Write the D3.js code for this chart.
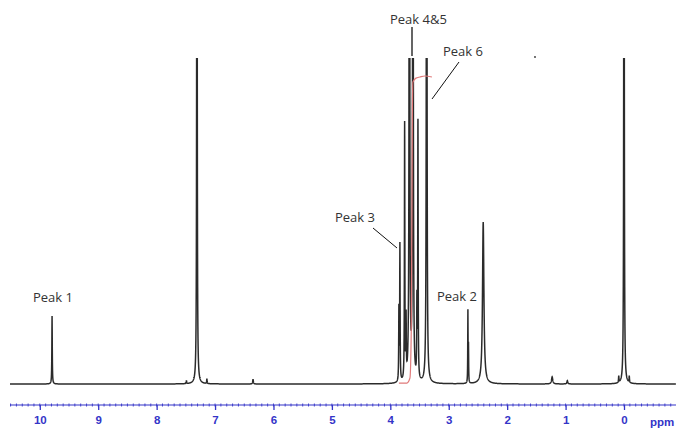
<!DOCTYPE html>
<html>
<head>
<meta charset="utf-8">
<script src="https://cdn.jsdelivr.net/npm/d3@7"></script>
<style>
  html, body { margin: 0; padding: 0; background: #fff; }
  svg { display: block; }
</style>
</head>
<body id="body">
<svg></svg>
<script>
// peak list (ppm, height in % of plot, half width in ppm)
var peakPpm    = [9.79, 7.49, 7.31, 7.14, 6.35, 3.853, 3.836, 3.755, 3.73, 3.673, 3.613, 3.545, 3.527, 3.378, 2.672, 2.662, 2.41, 1.23, 0.97, 0.09, 0.0, -0.09];
var peakHeight = [21, 1, 300, 1.5, 1.5, 22, 42, 79, 18, 300, 300, 23, 79, 300, 22, 11, 50, 2.2, 1, 2, 300, 2];
var peakWidth  = [0.004, 0.004, 0.004, 0.004, 0.006, 0.004, 0.004, 0.004, 0.004, 0.005, 0.005, 0.004, 0.004, 0.005, 0.003, 0.003, 0.014, 0.012, 0.008, 0.004, 0.004, 0.004];

// integral trace over peaks 4&5
var integralPpm = [3.853, 3.716, 3.664, 3.642, 3.630, 3.622, 3.613, 3.562, 3.493, 3.408, 3.288];
var integralVal = [0.3, 0.3, 1.85, 16, 52.2, 85.5, 93.2, 94.4, 94.75, 95.06, 94.75];

var majorTicks = [10, 9, 8, 7, 6, 5, 4, 3, 2, 1, 0];

var labels = [
  {text: "Peak 1", x: 33, y: 302},
  {text: "Peak 2", x: 437, y: 301},
  {text: "Peak 3", x: 335, y: 222},
  {text: "Peak 4&5", x: 390, y: 24},
  {text: "Peak 6", x: 443, y: 56}
];

var width = 676, height = 428;

var svg = d3.select("svg")
  .attr("width", width)
  .attr("height", height);

var x = d3.scaleLinear()
  .domain([10.51, -0.89])
  .range([10, 676]);

var y = d3.scaleLinear()
  .domain([0, 100])
  .range([384, 60]);

function intensity(p) {
  var s = 0;
  for (var i = 0; i < peakPpm.length; ++i) {
    var d = (p - peakPpm[i]) / peakWidth[i];
    s += peakHeight[i] / (1 + d * d);
  }
  return s;
}

var samples = d3.range(10.51, -0.89, -0.002).concat(peakPpm);
samples.sort(function (a, b) { return b - a; });
var spectrum = samples.map(function (p) { return [p, intensity(p)]; });

svg.append("clipPath")
  .attr("id", "plotclip")
  .append("rect")
  .attr("x", 0).attr("y", 58)
  .attr("width", width).attr("height", 340);

var line = d3.line()
  .x(function (d) { return x(d[0]); })
  .y(function (d) { return y(d[1]); });

svg.append("path")
  .datum(spectrum)
  .attr("clip-path", "url(#plotclip)")
  .attr("fill", "none")
  .attr("stroke", "#2b2b2b")
  .attr("stroke-width", 1.5)
  .attr("d", line);

// integral
svg.append("path")
  .datum(d3.zip(integralPpm, integralVal))
  .attr("fill", "none")
  .attr("stroke", "#e07a7a")
  .attr("stroke-width", 1.2)
  .attr("d", d3.line().curve(d3.curveMonotoneX)
    .x(function (d) { return x(d[0]); })
    .y(function (d) { return y(d[1]); }));

// axis
var axisColor = "#3434c8";
var axisG = svg.append("g")
  .attr("transform", "translate(0,405)");

axisG.append("line")
  .attr("x1", 10).attr("x2", width)
  .attr("stroke", axisColor)
  .attr("stroke-width", 1.2);

var minor = d3.range(-8, 106).map(function (d) { return d / 10; });
axisG.selectAll("line.minor")
  .data(minor)
  .enter().append("line")
  .attr("class", "minor")
  .attr("x1", x).attr("x2", x)
  .attr("y1", -1.5).attr("y2", 1.5)
  .attr("stroke", axisColor)
  .attr("stroke-width", 0.9);

var axis = d3.axisBottom(x)
  .tickValues(majorTicks)
  .tickSize(5)
  .tickPadding(6)
  .tickFormat(d3.format("d"));

axisG.append("g").call(axis)
  .call(function (g) { g.select(".domain").remove(); })
  .call(function (g) {
    g.selectAll(".tick line").attr("stroke", axisColor).attr("stroke-width", 1.3);
    g.selectAll(".tick text")
      .attr("fill", axisColor)
      .attr("font-family", "Liberation Sans, Arial, sans-serif")
      .attr("font-weight", "bold")
      .attr("font-size", 11.5);
  });

svg.append("text")
  .attr("x", 650).attr("y", 426)
  .attr("fill", axisColor)
  .attr("font-family", "Liberation Sans, Arial, sans-serif")
  .attr("font-weight", "bold")
  .attr("font-size", 11.5)
  .text("ppm");

// peak labels
svg.selectAll("text.peak")
  .data(labels)
  .enter().append("text")
  .attr("class", "peak")
  .attr("x", function (d) { return d.x; })
  .attr("y", function (d) { return d.y; })
  .attr("fill", "#333")
  .attr("font-family", "Open Sans, Noto Sans, sans-serif")
  .attr("font-size", 13)
  .text(function (d) { return d.text; });

// leader lines
svg.append("line")
  .attr("x1", 412).attr("y1", 27).attr("x2", 412).attr("y2", 56)
  .attr("stroke", "#555").attr("stroke-width", 1.8);
svg.append("line")
  .attr("x1", 459).attr("y1", 62).attr("x2", 432).attr("y2", 99)
  .attr("stroke", "#111").attr("stroke-width", 1);
svg.append("line")
  .attr("x1", 373).attr("y1", 228).attr("x2", 397).attr("y2", 248)
  .attr("stroke", "#111").attr("stroke-width", 1);

svg.append("circle")
  .attr("cx", 535).attr("cy", 57).attr("r", 0.9)
  .attr("fill", "#333");
</script>
</body>
</html>
